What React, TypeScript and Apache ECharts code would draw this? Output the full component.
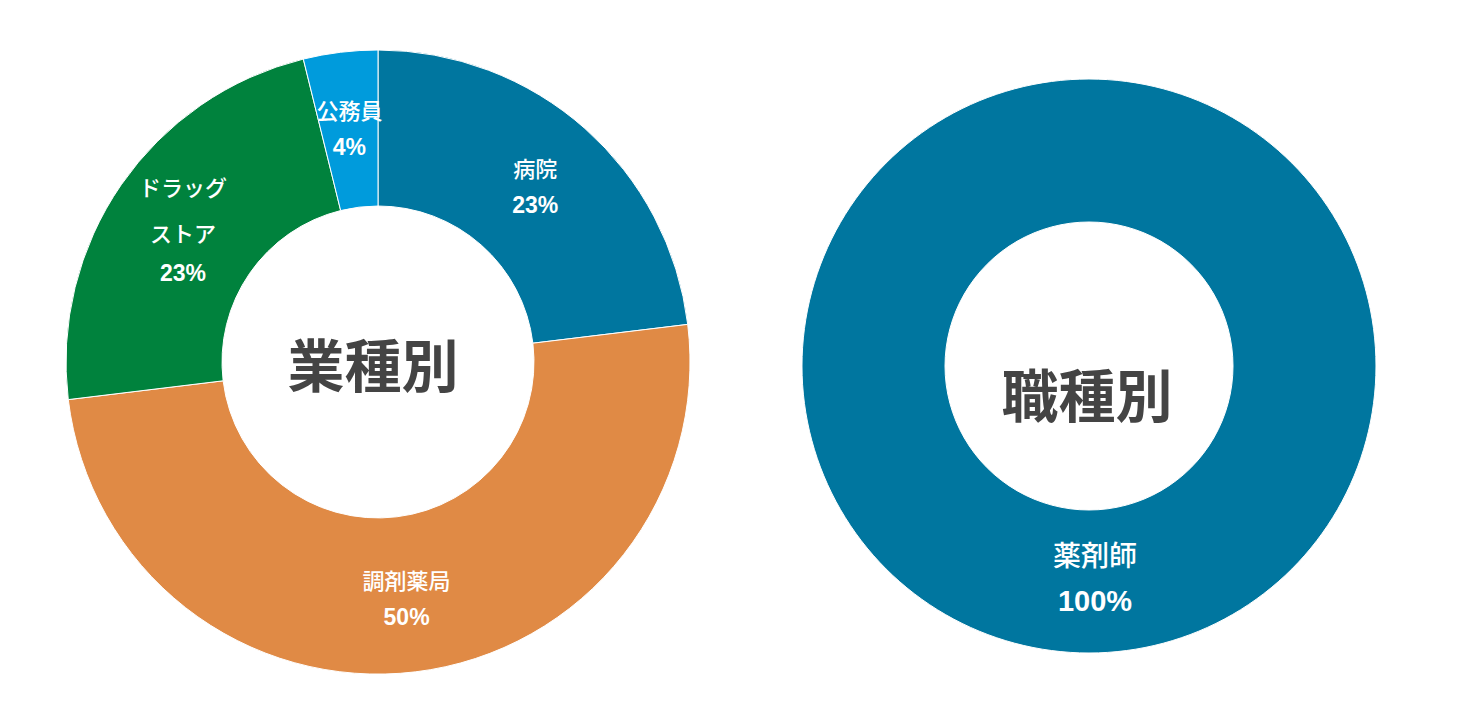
import React, { useEffect, useRef } from "react";
import * as echarts from "echarts";

// 業種別
const industryNames = ["病院", "調剤薬局", "ドラッグストア", "公務員"];
const industryLabels = ["病院", "調剤薬局", "ドラッグ\nストア", "公務員"];
const industryValues = [6, 13, 6, 1];
const industryColors = ["#00769F", "#E08A45", "#00823D", "#009BDC"];

// 職種別
const jobNames = ["薬剤師"];
const jobValues = [1];
const jobColors = ["#00769F"];

const titles = ["業種別", "職種別"];

const NUM_FONT = "'Liberation Sans', Arial, sans-serif";
const JP_FONT = "'Noto Sans CJK JP', sans-serif";

const App: React.FC = () => {
  const chartRef = useRef<HTMLDivElement | null>(null);

  useEffect(() => {
    document.body.style.margin = "0";
    const chartDom = chartRef.current;
    if (!chartDom) return;

    const chart = echarts.init(chartDom, null, { renderer: "svg" });

    const titleStyle = (text: string) => ({
      text,
      fill: "#444444",
      font: "bold 57px 'Noto Sans CJK JP', sans-serif",
      textAlign: "center",
      textVerticalAlign: "middle",
    });

    const option = {
      animation: false,
      backgroundColor: "#ffffff",
      graphic: [
        { type: "text", x: 373, y: 362, style: titleStyle(titles[0]) },
        { type: "text", x: 1087, y: 392, style: titleStyle(titles[1]) },
      ],
      series: [
        {
          type: "pie",
          center: [378, 362],
          radius: [156, 312],
          startAngle: 90,
          clockwise: true,
          silent: true,
          itemStyle: { borderColor: "#ffffff", borderWidth: 1 },
          label: {
            show: true,
            position: "inside",
            color: "#ffffff",
            formatter: (p: any) => {
              const lines = industryLabels[p.dataIndex].split("\n");
              const style = lines.length > 1 ? "k" : "n";
              return (
                lines.map((l) => `{${style}|${l}}`).join("\n") +
                `\n{p|${Math.round(p.percent)}%}`
              );
            },
            rich: {
              n: { fontFamily: JP_FONT, fontWeight: 500, fontSize: 22, lineHeight: 40, color: "#fff" },
              k: { fontFamily: JP_FONT, fontWeight: 500, fontSize: 22, lineHeight: 46, color: "#fff" },
              p: { fontFamily: NUM_FONT, fontWeight: "bold", fontSize: 23, lineHeight: 36, color: "#fff" },
            },
          },
          labelLine: { show: false },
          data: industryNames.map((n, i) => ({
            name: n,
            value: industryValues[i],
            itemStyle: { color: industryColors[i] },
          })),
        },
        {
          type: "pie",
          center: [1089, 366],
          radius: [144, 287],
          startAngle: 90,
          clockwise: true,
          silent: true,
          itemStyle: { borderColor: "#ffffff", borderWidth: 1 },
          label: {
            show: true,
            position: "inside",
            color: "#ffffff",
            formatter: (p: any) =>
              `{n|${p.name}}\n{p|${Math.round(p.percent)}%}\n{s| }`,
            rich: {
              n: { fontFamily: JP_FONT, fontWeight: 500, fontSize: 28, lineHeight: 48, color: "#fff", padding: [0, 0, 0, 12] },
              p: { fontFamily: NUM_FONT, fontWeight: "bold", fontSize: 29, lineHeight: 46, color: "#fff", padding: [0, 0, 0, 12] },
              s: { fontSize: 10, lineHeight: 16 },
            },
          },
          labelLine: { show: false },
          data: jobNames.map((n, i) => ({
            name: n,
            value: jobValues[i],
            itemStyle: { color: jobColors[i] },
          })),
        },
      ],
    };

    chart.setOption(option);

    return () => {
      chart.dispose();
    };
  }, []);

  return <div ref={chartRef} style={{ width: "1459px", height: "710px" }}></div>;
};

export default App;
